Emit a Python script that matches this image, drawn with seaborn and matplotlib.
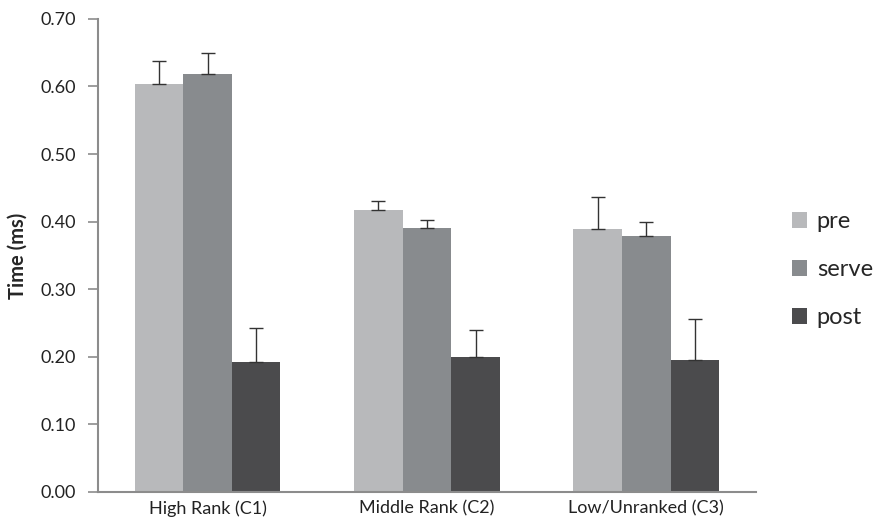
import numpy as np
import pandas as pd
import matplotlib
matplotlib.use("Agg")
import matplotlib.pyplot as plt
import seaborn as sns

# values
categories = ["High Rank (C1)", "Middle Rank (C2)", "Low/Unranked (C3)"]
phases = ["pre", "serve", "post"]
pre = [0.604, 0.417, 0.389]
serve = [0.619, 0.391, 0.379]
post = [0.193, 0.200, 0.195]
pre_err = [0.034, 0.013, 0.047]
serve_err = [0.030, 0.012, 0.021]
post_err = [0.050, 0.040, 0.061]

colors = ["#b8b9bb", "#888b8e", "#4b4b4d"]

sns.set_style("white")
plt.rcParams["font.family"] = ["Lato", "DejaVu Sans"]

df = pd.DataFrame({
    "category": categories * 3,
    "phase": np.repeat(phases, 3),
    "time": pre + serve + post,
    "err": pre_err + serve_err + post_err,
})

fig = plt.figure(figsize=(8.82, 5.21), dpi=100)
ax = fig.add_axes([0.111, 0.0557, 0.746, 0.908])

sns.barplot(data=df, x="category", y="time", hue="phase", order=categories,
            hue_order=phases, palette=colors, width=0.665, errorbar=None,
            saturation=1, ax=ax, linewidth=0)

# one-sided (upward) error bars on each bar
for cont, ph in zip(ax.containers, phases):
    sub = df[df["phase"] == ph].set_index("category").loc[categories]
    xs = [b.get_x() + b.get_width() / 2 for b in cont]
    hs = [b.get_height() for b in cont]
    ax.errorbar(xs, hs, yerr=[np.zeros(len(xs)), sub["err"].values],
                fmt="none", ecolor="#333333", elinewidth=1.0, capsize=5, capthick=1.0)

ax.set_xlim(-0.5, 2.5)
ax.set_ylim(0, 0.70)
ax.set_yticks(np.arange(0, 0.71, 0.1))
ax.set_yticklabels([f"{v:.2f}" for v in np.arange(0, 0.71, 0.1)], fontsize=13, color="#222222")
ax.tick_params(axis="x", length=0, labelsize=13, labelcolor="#222222", pad=6)
ax.tick_params(axis="y", length=7, width=1.2, color="#8c8c8c", direction="out", left=True, pad=9)
ax.set_xlabel("")
ax.set_ylabel("Time (ms)", fontsize=14.5, fontweight="bold", labelpad=9)

sns.despine(ax=ax)
for s in ["left", "bottom"]:
    ax.spines[s].set_color("#8c8c8c")
    ax.spines[s].set_linewidth(1.5)

ax.legend(loc="center left", bbox_to_anchor=(1.055, 0.47), frameon=False,
          fontsize=17, handlelength=0.65, handleheight=0.65, handletextpad=0.4,
          labelspacing=1.15, borderaxespad=0, borderpad=0)

fig.savefig("out.png", dpi=100)
